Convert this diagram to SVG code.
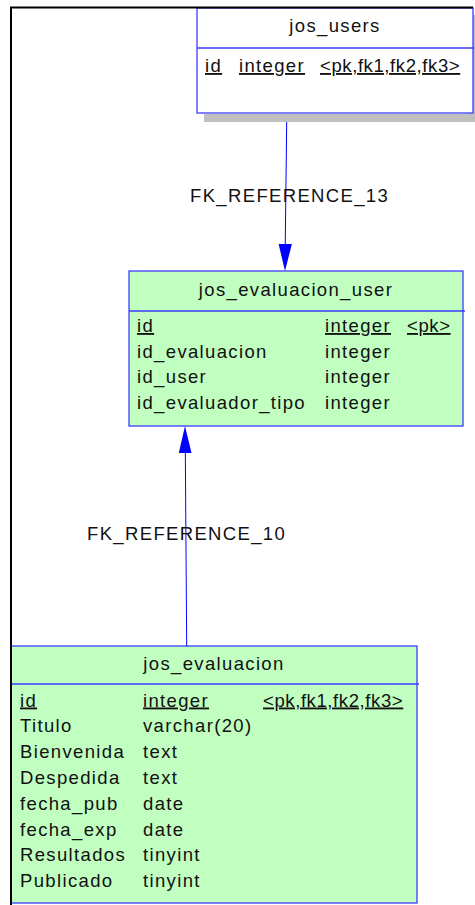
<svg xmlns="http://www.w3.org/2000/svg" width="475" height="905" viewBox="0 0 475 905">
  <style>
    text { font-family: "Liberation Sans", Arial, sans-serif; font-size: 18.5px; letter-spacing: 1.35px; fill: #111; }
    text.tight { letter-spacing: 0.6px; }
    .title { text-anchor: middle; }
    .key { text-decoration: underline; }
    .tbl { stroke: #3c3cff; stroke-width: 1.3; }
    .green { fill: #c0ffc0; }
    .plain { fill: #ffffff; }
    .rule { stroke: #3c3cff; stroke-width: 1.3; fill: none; }
    .link { stroke: #0000ff; stroke-width: 1; fill: none; }
    .head { fill: #0000ff; }
    .frame { stroke: #000; stroke-width: 2; fill: none; }
  </style>

  <rect x="0" y="0" width="475" height="905" fill="#ffffff"/>

  <!-- jos_users -->
  <g id="jos_users">
    <rect x="204" y="114" width="271" height="8" fill="#c0c0c0"/>
    <rect x="467" y="15" width="8" height="107" fill="#c0c0c0"/>
    <rect x="197" y="8" width="276" height="105" class="plain tbl"/>
    <line x1="197" y1="48" x2="474" y2="48" class="rule"/>
    <text x="335" y="32" class="title">jos_users</text>
    <text x="205" y="72" class="key">id</text>
    <text x="239" y="72" class="key">integer</text>
    <text x="320" y="72" class="key tight">&lt;pk,fk1,fk2,fk3&gt;</text>
  </g>

  <!-- jos_evaluacion_user -->
  <g id="jos_evaluacion_user">
    <rect x="129" y="271" width="334" height="155" class="green tbl"/>
    <line x1="129" y1="311" x2="465" y2="311" class="rule"/>
    <text x="296" y="296" class="title">jos_evaluacion_user</text>
    <text x="137" y="332" class="key">id</text>
    <text x="325" y="332" class="key">integer</text>
    <text x="407" y="332" class="key tight">&lt;pk&gt;</text>
    <text x="137" y="357.5">id_evaluacion</text>
    <text x="325" y="357.5">integer</text>
    <text x="137" y="383">id_user</text>
    <text x="325" y="383">integer</text>
    <text x="137" y="409">id_evaluador_tipo</text>
    <text x="325" y="409">integer</text>
  </g>

  <!-- jos_evaluacion -->
  <g id="jos_evaluacion">
    <rect x="11" y="646" width="406" height="257" class="green tbl"/>
    <line x1="11" y1="684" x2="419" y2="684" class="rule"/>
    <text x="214" y="670" class="title">jos_evaluacion</text>
    <text x="20" y="706.5" class="key">id</text>
    <text x="143" y="706.5" class="key">integer</text>
    <text x="263" y="706.5" class="key tight">&lt;pk,fk1,fk2,fk3&gt;</text>
    <text x="20" y="732.3">Titulo</text>
    <text x="143" y="732.3">varchar(20)</text>
    <text x="20" y="758.1">Bienvenida</text>
    <text x="143" y="758.1">text</text>
    <text x="20" y="783.9">Despedida</text>
    <text x="143" y="783.9">text</text>
    <text x="20" y="809.7">fecha_pub</text>
    <text x="143" y="809.7">date</text>
    <text x="20" y="835.5">fecha_exp</text>
    <text x="143" y="835.5">date</text>
    <text x="20" y="861.3">Resultados</text>
    <text x="143" y="861.3">tinyint</text>
    <text x="20" y="887.1">Publicado</text>
    <text x="143" y="887.1">tinyint</text>
  </g>

  <!-- references -->
  <g id="connectors">
    <g id="FK_REFERENCE_13">
      <line x1="286.7" y1="122" x2="285.2" y2="250" class="link"/>
      <polygon points="285,271 278.6,244 291.9,244" class="head"/>
      <text x="190" y="201.5">FK_REFERENCE_13</text>
    </g>
    <g id="FK_REFERENCE_10">
      <line x1="186.7" y1="646" x2="185.3" y2="448" class="link"/>
      <polygon points="185,426 178.8,453 191.5,453" class="head"/>
      <text x="87" y="540">FK_REFERENCE_10</text>
    </g>
  </g>

  <!-- page frame -->
  <path d="M11,905 V7.5 H473" class="frame"/>
</svg>
